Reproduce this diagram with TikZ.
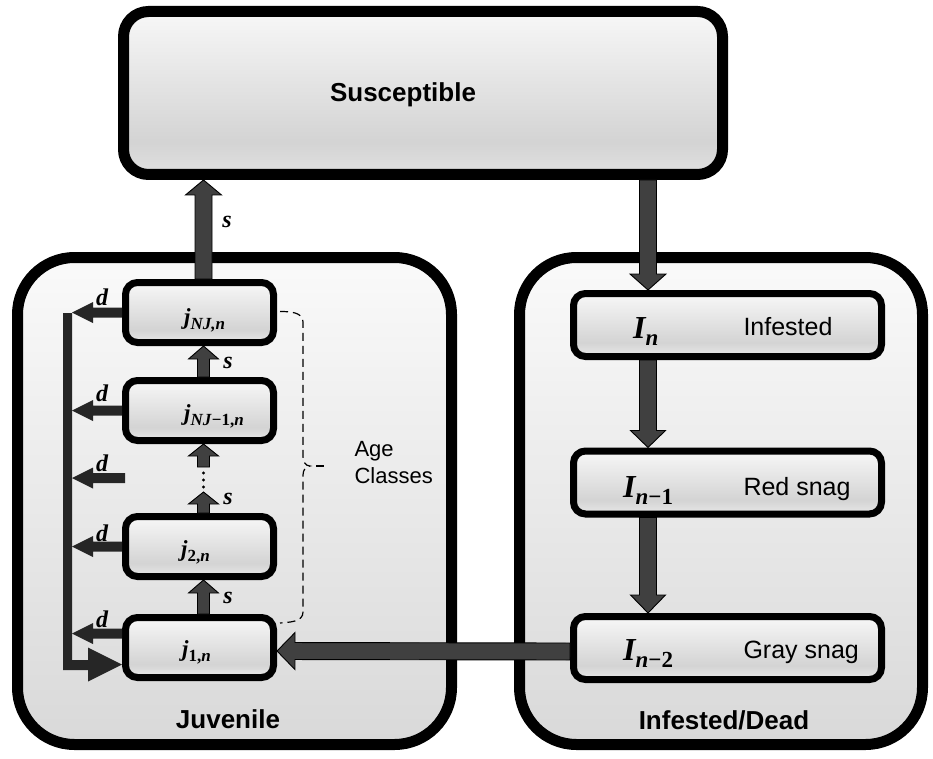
\documentclass[tikz,border=0pt]{standalone}
\usepackage{fontspec}
\setmainfont{Liberation Sans}
\newfontfamily\cambria{Liberation Serif}
\usetikzlibrary{calc}
\definecolor{arrowgray}{HTML}{404040}
\definecolor{ddark}{HTML}{262626}
\pgfdeclareverticalshading{bigshade}{100bp}{color(0bp)=(black!15); color(25bp)=(black!15); color(75bp)=(black!2); color(100bp)=(black!2)}
\pgfdeclareverticalshading{susshade}{100bp}{color(0bp)=(black!12); color(25bp)=(black!12); color(35bp)=(black!17); color(75bp)=(black!3); color(100bp)=(black!3)}
\pgfdeclareverticalshading{smallshade}{100bp}{color(0bp)=(black!9); color(25bp)=(black!9); color(36bp)=(black!17); color(75bp)=(black!3); color(100bp)=(black!3)}
% bold italic variable with subscript: size, subscript size, letter, subscript
\newcommand\mvar[4]{{\cambria\bfseries\itshape\fontsize{#1}{#1}\selectfont #3\raisebox{-0.24em}{\fontsize{#2}{#2}\selectfont #4}}}
\newcommand\up[1]{\textup{#1}}
\newcommand\blockarrow[6]{%
  \coordinate (ba) at (#2);
  \coordinate (bb) at (#3);
  \coordinate (bh) at ($(bb)!#6!(ba)$);
  \path[#1] ($(ba)!#4!90:(bb)$) -- ($(bh)!#4!90:(bb)$) -- ($(bh)!#5!90:(bb)$) -- (bb)
    -- ($(bh)!#5!-90:(bb)$) -- ($(bh)!#4!-90:(bb)$) -- ($(ba)!#4!-90:(bb)$) -- cycle;}
\begin{document}
\begin{tikzpicture}[x=1pt,y=-1pt,
  bigbox/.style={draw=black, line width=11pt, rounded corners=57pt, shading=bigshade, inner sep=0pt},
  susbox/.style={draw=black, line width=11pt, rounded corners=25pt, shading=susshade, inner sep=0pt},
  smallbox/.style={draw=black, line width=7pt, rounded corners=12pt, shading=smallshade, inner sep=0pt},
  mainarrow/.style={fill=arrowgray, draw=black, line width=0.9pt, line join=miter},
  sarrow/.style={fill=arrowgray, draw=black, line width=0.9pt, line join=miter},
  darrow/.style={fill=ddark},
  boldlabel/.style={font=\fontsize{26}{30}\selectfont\bfseries},
  txtlabel/.style={font=\fontsize{25}{30}\selectfont, anchor=base west},
  mathlab/.style={anchor=base west, inner sep=0pt},
  rate/.style={font=\cambria\bfseries\itshape\fontsize{24}{26}\selectfont, inner sep=0pt},
  bracketline/.style={draw=black, line width=1.2pt, dash pattern=on 8pt off 5pt}]
\fill[white] (0,0) rectangle (933,759);
\useasboundingbox (0,0) rectangle (933,759);

% compartments
\node[bigbox, minimum width=434pt, minimum height=487pt] (Juv) at (234.5,501) {};
\node[bigbox, minimum width=403pt, minimum height=487pt] (Inf) at (721,501) {};
\node[susbox, minimum width=599pt, minimum height=163pt] (Susc) at (423,93) {};
\node[boldlabel] (tSusc) at (403,95) {Susceptible};
\node[boldlabel] (tJuv) at (228,719) {Juvenile};
\node[boldlabel] (tInf) at (724,720) {Infested/Dead};

% juvenile age classes
\node[smallbox, minimum width=148pt, minimum height=60pt] (jNJ) at (199.5,312.5) {};
\node[smallbox, minimum width=148pt, minimum height=60pt] (jNJm) at (199.5,410.5) {};
\node[smallbox, minimum width=148pt, minimum height=60pt] (j2) at (199.5,546.5) {};
\node[smallbox, minimum width=148pt, minimum height=60pt] (j1) at (199.5,647.5) {};
\node[mathlab] (ljNJ) at (184,324) {\mvar{23}{17}{j}{NJ,n}};
\node[mathlab] (ljNJm) at (184,420) {\mvar{23}{17}{j}{NJ\up{−1,}n}};
\node[mathlab] (lj2) at (181,556) {\mvar{23}{17}{j}{\up{2,}n}};
\node[mathlab] (lj1) at (182,656) {\mvar{23}{17}{j}{\up{1,}n}};

% infested classes
\node[smallbox, minimum width=308pt, minimum height=63pt] (In) at (727.5,325) {};
\node[smallbox, minimum width=308pt, minimum height=63pt] (Inm) at (727.5,482.5) {};
\node[smallbox, minimum width=308pt, minimum height=63pt] (Inn) at (727.5,648) {};
\node[mathlab] (lIn) at (633,338) {\mvar{32}{23}{I}{n}};
\node[mathlab] (lInm) at (623,497) {\mvar{32}{23}{I}{n\up{−1}}};
\node[mathlab] (lInn) at (623,660) {\mvar{32}{23}{I}{n\up{−2}}};
\node[txtlabel] (tIn) at (740,335) {Infested};
\node[txtlabel] (tInm) at (740,495) {Red snag};
\node[txtlabel] (tInn) at (740,658) {Gray snag};

% helper coordinates
\coordinate (sx) at (203.5,0);
\coordinate (rx) at (648,0);
\coordinate (barx) at (72,0);
\coordinate (dotlow) at (203.5,492);
\coordinate (dothigh) at (203.5,467);
\coordinate (dfree) at (125,478);
\coordinate (j1d) at ($(j1.west)+(0,-14)$);
\coordinate (j1tip) at ($(j1.west)+(0,17)$);

% main flow arrows
\blockarrow{mainarrow}{jNJ.north -| sx}{Susc.south -| sx}{8.5pt}{18pt}{15pt}
\blockarrow{mainarrow}{Susc.south -| rx}{In.north -| rx}{8.5pt}{18pt}{16pt}
\blockarrow{mainarrow}{In.south -| rx}{Inm.north -| rx}{8.5pt}{17.5pt}{17pt}
\blockarrow{mainarrow}{Inm.south -| rx}{Inn.north -| rx}{8.5pt}{17.5pt}{18pt}
\blockarrow{mainarrow}{$(Inn.west)+(0,3.5)$}{$(j1.east)+(0,3.5)$}{8.5pt}{18.5pt}{18pt}

% survival arrows between age classes
\blockarrow{sarrow}{j1.north -| sx}{j2.south -| sx}{6pt}{15pt}{13pt}
\blockarrow{sarrow}{j2.north -| sx}{dotlow}{6pt}{15pt}{12pt}
\blockarrow{sarrow}{dothigh}{jNJm.south -| sx}{6pt}{15pt}{12pt}
\blockarrow{sarrow}{jNJm.north -| sx}{jNJ.south -| sx}{6pt}{15pt}{13pt}
\fill (203.5,473) circle (1.7pt) (203.5,480) circle (1.7pt) (203.5,487) circle (1.7pt);

% death arrows
\blockarrow{darrow}{jNJ.west}{jNJ.west -| barx}{5pt}{10.5pt}{21pt}
\blockarrow{darrow}{jNJm.west}{jNJm.west -| barx}{5pt}{10.5pt}{21pt}
\blockarrow{darrow}{dfree}{dfree -| barx}{5pt}{10.5pt}{21pt}
\blockarrow{darrow}{j2.west}{j2.west -| barx}{5pt}{10.5pt}{21pt}
\blockarrow{darrow}{j1d}{j1d -| barx}{5pt}{10.5pt}{21pt}
\fill[ddark] (63,313) -- (72,313) -- (72,660) -- (88,660) -- (88,647.5) -- (j1tip)
  -- (88,681.5) -- (88,670) -- (63,670) -- cycle;

% rate labels
\node[rate] (s0) at (227,222) {s};
\node[rate] (s1) at (228,363) {s};
\node[rate] (s2) at (228,499) {s};
\node[rate] (s3) at (228,598) {s};
\node[rate] (d1) at (102,297) {d};
\node[rate] (d2) at (102,393) {d};
\node[rate] (d3) at (102,463) {d};
\node[rate] (d4) at (102,533) {d};
\node[rate] (d5) at (102,619) {d};

% age classes bracket
\draw[bracketline] (280,311.5) to[out=0,in=90] (303,322) -- (303,457)
  to[out=-90,in=180] (310,466) to[out=180,in=90] (303,475) -- (303,612)
  to[out=-90,in=5] (280,623);
\draw[bracketline] (316,466) -- (328,466);
\node[anchor=west, align=left, font=\fontsize{22}{27}\selectfont] (age) at (351,463) {Age\\Classes};
\end{tikzpicture}
\end{document}
